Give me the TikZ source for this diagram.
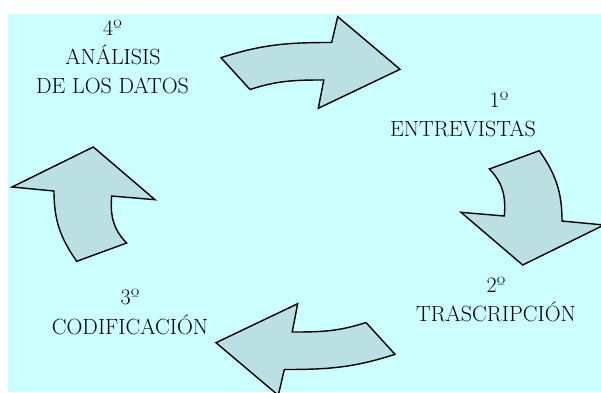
\documentclass[tikz,border=0pt]{standalone}
\definecolor{bgCyan}{RGB}{204,255,255}
\definecolor{arrowFill}{RGB}{187,224,227}

\begin{document}
\begin{tikzpicture}
[x=1pt,y=1pt,
  arrowDecorate/.style={draw=black,fill=arrowFill,line width=1.4pt,line join=miter},%
  labelDecorate/.style={anchor=base,inner sep=0pt,font=\fontsize{22}{26}\selectfont}]
\useasboundingbox (0,0) rectangle (601,392);
\clip (0,0) rectangle (601,392);
\fill[bgCyan] (8,0) rectangle (601,378);
%% arrows
\draw[arrowDecorate] (221,334.3) to[out=18,in=180] (331.7,349.5) -- (337.7,375.3)
  -- (400,322.7) -- (318.3,283.7) -- (323.8,312) to[out=180,in=18] (250,302.5) -- cycle;
\draw[arrowDecorate] (489.3,223) -- (539.3,241.3) to[out=-55,in=90] (562,171)
  -- (604,167) -- (522.7,127) -- (461,179.7) -- (504.3,176) to[out=85,in=-45] (489.3,223) -- cycle;
\draw[arrowDecorate] (395,37.7) to[out=198,in=0] (284.3,22.5) -- (278.3,-3.3)
  -- (216,49.3) -- (297.7,88.3) -- (292.2,60) to[out=0,in=198] (366,69.5) -- cycle;
\draw[arrowDecorate] (126.7,149) -- (76.7,130.7) to[out=125,in=-90] (54,201)
  -- (12,205) -- (93.3,245) -- (155,192.3) -- (111.7,196) to[out=-95,in=135] (126.7,149) -- cycle;
%% labels
\foreach \nodename/\x/\y/\txt in {
  cuarto/112.5/357/4º,
  analisis/113/327.7/ANÁLISIS,
  datos/112.5/298.7/DE LOS DATOS,
  primero/499/284.3/1º,
  entrevistas/463/255.3/ENTREVISTAS,
  segundo/496/100/2º,
  trascripcion/496/70.7/TRASCRIPCIÓN,
  tercero/130/87.7/3º,
  codificacion/130/57.3/CODIFICACIÓN}
{
  \node (\nodename) at (\x,\y) [labelDecorate] {\txt};
}
\end{tikzpicture}
\end{document}
